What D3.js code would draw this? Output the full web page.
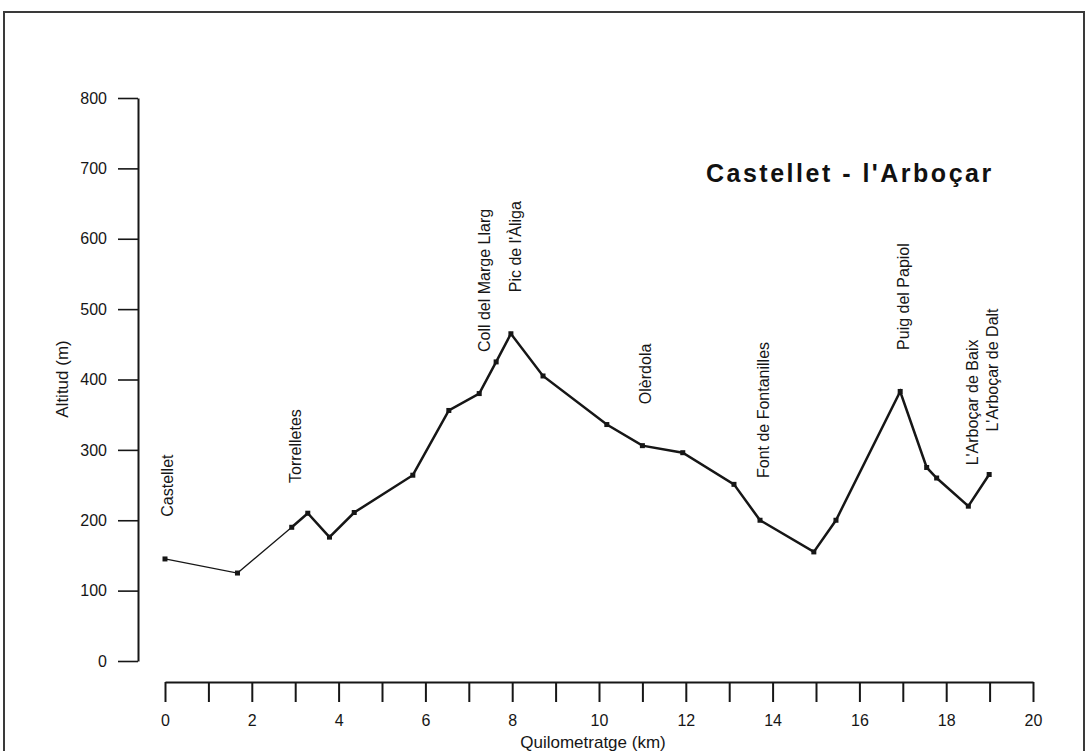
<!DOCTYPE html>
<html>
<head>
<meta charset="utf-8">
<script src="https://cdn.jsdelivr.net/npm/d3@7/dist/d3.min.js"></script>
<style>
  html, body { margin: 0; padding: 0; background: #ffffff; }
  svg { display: block; font-family: "Liberation Sans", Arial, sans-serif; }
</style>
</head>
<body>
<svg id="chart" width="1088" height="751"></svg>
<script>
// ---- data ----
const title = "Castellet - l'Arboçar";
const xLabel = "Quilometratge (km)";
const yLabel = "Altitud (m)";

const km       = [0, 1.67, 2.92, 3.29, 3.79, 4.36, 5.71, 6.54, 7.24, 7.63, 7.97, 8.71, 10.18, 11.0, 11.93, 13.11, 13.71, 14.95, 15.46, 16.94, 17.55, 17.78, 18.51, 18.99];
const altitude = [145, 125, 190, 210, 176, 211, 264, 356, 380, 425, 465, 405, 336, 306, 296, 251, 200, 155, 200, 383, 275, 260, 220, 265];

const placeNames = ["Castellet", "Torrelletes", "Coll del Marge Llarg", "Pic de l'Àliga", "Olèrdola", "Font de Fontanilles", "Puig del Papiol", "L'Arboçar de Baix", "L'Arboçar de Dalt"];
const placeKm    = [0.05, 3.01, 7.35, 8.08, 11.06, 13.78, 17.0, 18.59, 19.07];
const placeAlt   = [205, 253, 439, 524, 365, 260, 442, 278, 326];

const xTicks = d3.range(0, 21, 1);
const yTicks = [0, 100, 200, 300, 400, 500, 600, 700, 800];

// ---- layout ----
const svg = d3.select("#chart");
const x = d3.scaleLinear().domain([0, 20]).range([165, 1033]);
const y = d3.scaleLinear().domain([0, 800]).range([661, 98]);
const ink = "#161616";

// frame
svg.append("rect")
  .attr("x", 4).attr("y", 12).attr("width", 1080).attr("height", 760)
  .attr("fill", "none").attr("stroke", "#3a3a3a").attr("stroke-width", 2);

// y axis
const yAxis = svg.append("g")
  .attr("transform", "translate(138,0)")
  .call(d3.axisLeft(y).tickValues(yTicks).tickSize(20).tickSizeOuter(0).tickPadding(11));
yAxis.select(".domain").attr("stroke", ink).attr("stroke-width", 2);
yAxis.selectAll(".tick line").attr("stroke", ink).attr("stroke-width", 1.6);
yAxis.selectAll(".tick text").attr("fill", ink).style("font-size", "16px").style("font-family", "Liberation Sans, Arial, sans-serif");

// x axis
const xAxis = svg.append("g")
  .attr("transform", "translate(0,682)")
  .call(d3.axisBottom(x).tickValues(xTicks).tickSize(20).tickSizeOuter(0).tickPadding(13)
    .tickFormat(d => d % 2 === 0 ? d : ""));
xAxis.select(".domain").attr("stroke", ink).attr("stroke-width", 2);
xAxis.selectAll(".tick line").attr("stroke", ink).attr("stroke-width", 2);
xAxis.selectAll(".tick text").attr("fill", ink).style("font-size", "16px").style("font-family", "Liberation Sans, Arial, sans-serif");

// axis titles
svg.append("text")
  .attr("x", 593).attr("y", 748)
  .attr("text-anchor", "middle")
  .attr("fill", ink).style("font-size", "17px")
  .text(xLabel);

svg.append("text")
  .attr("transform", "translate(68,379) rotate(-90)")
  .attr("text-anchor", "middle")
  .attr("fill", ink).style("font-size", "17px")
  .text(yLabel);

// title
svg.append("text")
  .attr("x", 706).attr("y", 182)
  .attr("fill", "#111").style("font-size", "25px").style("font-weight", "bold")
  .style("letter-spacing", "2.5px")
  .text(title);

// profile
const pts = km.map((k, i) => ({ k, a: altitude[i] }));
const line = d3.line().x(d => x(d.k)).y(d => y(d.a));

svg.append("path").datum(pts.slice(0, 3))
  .attr("d", line).attr("fill", "none").attr("stroke", ink).attr("stroke-width", 1.3);
svg.append("path").datum(pts.slice(2))
  .attr("d", line).attr("fill", "none").attr("stroke", ink).attr("stroke-width", 2.5)
  .attr("stroke-linejoin", "miter");

svg.selectAll("rect.pt").data(pts).enter().append("rect")
  .attr("class", "pt")
  .attr("x", d => x(d.k) - 2.5).attr("y", d => y(d.a) - 2.5)
  .attr("width", 5).attr("height", 5).attr("fill", ink);

// place labels
svg.selectAll("text.place").data(placeNames).enter().append("text")
  .attr("class", "place")
  .attr("transform", (d, i) => `translate(${x(placeKm[i])},${y(placeAlt[i])}) rotate(-90)`)
  .attr("dy", "0.36em")
  .attr("fill", ink).style("font-size", "16px")
  .text(d => d);
</script>
</body>
</html>
